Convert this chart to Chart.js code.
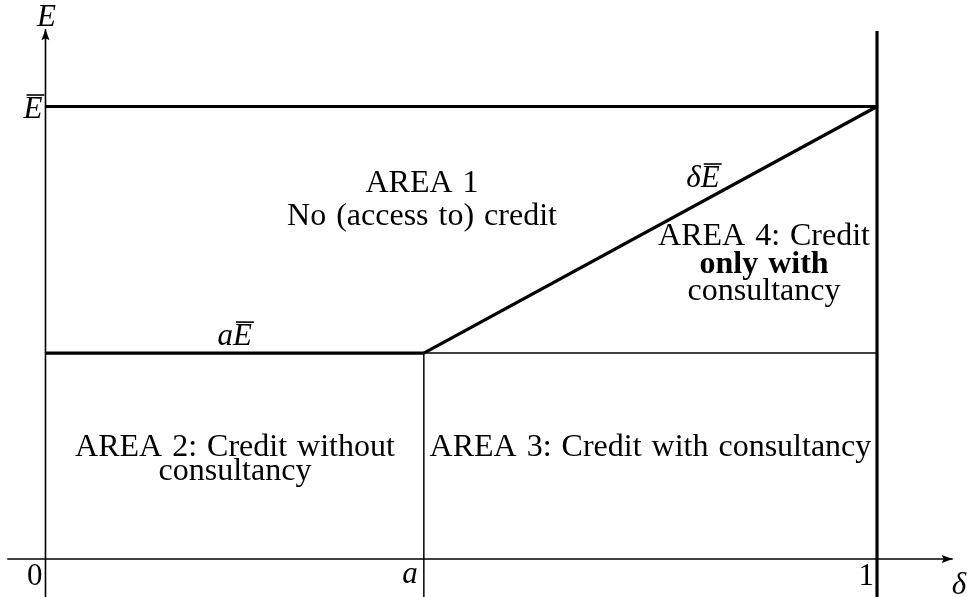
<!DOCTYPE html>
<html>
<head>
<meta charset="utf-8">
<script src="https://cdn.jsdelivr.net/npm/chart.js@4/dist/chart.umd.min.js"></script>
<style>
  html, body { margin: 0; padding: 0; background: #fff; }
  #c { display: block; }
</style>
</head>
<body>
<canvas id="c" width="967" height="597"></canvas>
<script>
// ---- Data (model values) ----
const EBAR = 1;          // upper bound E-bar
const A = 0.455;         // threshold a (on delta axis), a*E-bar on E axis
const deltaTickValues = [0, A, 1];
const deltaTickLabels = ['0', 'a', '1'];
const eTickValues = [EBAR];
const eTickLabels = ['E'];   // drawn with overline (E-bar)

// Region boundaries
const upperBound = [{x: 0, y: EBAR}, {x: 1, y: EBAR}];
const lowerBoundThick = [{x: 0, y: A * EBAR}, {x: A, y: A * EBAR}];
const diagonal = [{x: A, y: A * EBAR}, {x: 1, y: 1 * EBAR}];
const lowerBoundThin = [{x: A, y: A * EBAR}, {x: 1, y: A * EBAR}];
const aVertical = [{x: A, y: -0.1}, {x: A, y: A * EBAR}];
const oneVertical = [{x: 1, y: -0.1}, {x: 1, y: 1.167}];
const xAxisLine = [{x: -0.046, y: 0}, {x: 1.091, y: 0}];
const yAxisLine = [{x: 0, y: -0.1}, {x: 0, y: 1.171}];

// Area texts
const areaTexts = [
  {x: 0.4528, y: 0.811, gap: 33, lines: [['AREA 1', ''], ['No (access to) credit', '']]},
  {x: 0.2279, y: 0.2276, gap: 24, lines: [['AREA 2: Credit without', ''], ['consultancy', '']]},
  {x: 0.7275, y: 0.2276, gap: 24, lines: [['AREA 3: Credit with consultancy', '']]},
  {x: 0.8641, y: 0.6939, gap: 27.5, lines: [['AREA 4: Credit', ''], ['only with', 'bold'], ['consultancy', '']]}
];

const FONT = '"Liberation Serif", "DejaVu Serif", serif';
const FS = 31;
const FS_TEXT = 32;

function seg(data, w) {
  return {data: data, showLine: true, borderColor: '#000', borderWidth: w,
          pointRadius: 0, fill: false, borderCapStyle: 'butt', borderJoinStyle: 'miter'};
}

function drawEbar(ctx, prefix, xCenterOrRight, baseline, align, prefixFont) {
  ctx.save();
  const eFont = 'italic ' + FS + 'px ' + FONT;
  ctx.font = prefixFont || eFont;
  const pw = prefix ? ctx.measureText(prefix).width : 0;
  ctx.font = eFont;
  const ew = ctx.measureText('E').width;
  const total = pw + ew;
  let left;
  if (align === 'center') left = xCenterOrRight - total / 2;
  else if (align === 'right') left = xCenterOrRight - total;
  else left = xCenterOrRight;
  ctx.fillStyle = '#000';
  ctx.textBaseline = 'alphabetic';
  ctx.textAlign = 'left';
  if (prefix) { ctx.font = prefixFont || eFont; ctx.fillText(prefix, left, baseline); }
  ctx.font = eFont;
  ctx.fillText('E', left + pw, baseline);
  // overline
  ctx.strokeStyle = '#000';
  ctx.lineWidth = 1.6;
  ctx.beginPath();
  ctx.moveTo(left + pw + 3, baseline - 23);
  ctx.lineTo(left + pw + ew + 2, baseline - 23);
  ctx.stroke();
  ctx.restore();
}

const decorPlugin = {
  id: 'decor',
  afterDatasetsDraw(chart) {
    const ctx = chart.ctx;
    const xs = chart.scales.x, ys = chart.scales.y;
    ctx.save();
    ctx.fillStyle = '#000';
    // Arrow heads
    const xTip = xs.getPixelForValue(xAxisLine[1].x), y0 = ys.getPixelForValue(0);
    ctx.beginPath();
    ctx.moveTo(xTip, y0);
    ctx.lineTo(xTip - 11, y0 - 4);
    ctx.lineTo(xTip - 9, y0);
    ctx.lineTo(xTip - 11, y0 + 4);
    ctx.closePath();
    ctx.fill();
    const yTip = ys.getPixelForValue(yAxisLine[1].y), x0 = xs.getPixelForValue(0);
    ctx.beginPath();
    ctx.moveTo(x0, yTip);
    ctx.lineTo(x0 - 4, yTip + 11);
    ctx.lineTo(x0, yTip + 9);
    ctx.lineTo(x0 + 4, yTip + 11);
    ctx.closePath();
    ctx.fill();

    // Tick labels on delta axis
    ctx.textBaseline = 'alphabetic';
    deltaTickValues.forEach((v, i) => {
      const lab = deltaTickLabels[i];
      const isMath = /[a-z]/.test(lab);
      ctx.font = (isMath ? 'italic ' : '') + FS + 'px ' + FONT;
      ctx.textAlign = 'right';
      ctx.fillText(lab, xs.getPixelForValue(v) - (isMath ? 6 : 3), y0 + (isMath ? 24 : 26));
    });
    // axis titles
    ctx.font = 'italic ' + FS + 'px ' + FONT;
    ctx.textAlign = 'left';
    ctx.fillText('\u03B4', xTip - 1, y0 + 35);
    ctx.textAlign = 'center';
    ctx.fillText('E', x0 + 1, yTip - 3);

    // E-bar tick on E axis
    eTickValues.forEach((v) => {
      drawEbar(ctx, '', x0 - 3, ys.getPixelForValue(v) + 11.5, 'right');
    });

    // Curve labels
    drawEbar(ctx, 'a', xs.getPixelForValue(A / 2), ys.getPixelForValue(A * EBAR) - 8, 'center');
    drawEbar(ctx, '\u03B4', xs.getPixelForValue(0.7907), ys.getPixelForValue(0.8221), 'center');

    // Area texts
    ctx.textAlign = 'center';
    try { ctx.wordSpacing = '2px'; } catch (e) {}
    areaTexts.forEach((t) => {
      const cx = xs.getPixelForValue(t.x);
      let by = ys.getPixelForValue(t.y);
      t.lines.forEach(([txt, w]) => {
        ctx.font = (w === 'bold' ? 'bold ' : '') + FS_TEXT + 'px ' + FONT;
        ctx.fillText(txt, cx, by);
        by += t.gap;
      });
    });
    ctx.restore();
  }
};

new Chart(document.getElementById('c'), {
  type: 'scatter',
  data: {
    datasets: [
      seg(xAxisLine, 1.6),
      seg(yAxisLine, 1.6),
      seg(aVertical, 1.5),
      seg(lowerBoundThin, 1.5),
      seg(upperBound, 3.2),
      seg(lowerBoundThick, 3.2),
      seg(diagonal, 3.2),
      seg(oneVertical, 3.2)
    ]
  },
  options: {
    responsive: false,
    devicePixelRatio: 1,
    animation: false,
    events: [],
    layout: {padding: 0},
    plugins: {legend: {display: false}, tooltip: {enabled: false}, title: {display: false}},
    scales: {
      x: {type: 'linear', display: false, min: -0.0547, max: 1.1082},
      y: {type: 'linear', display: false, min: -0.084, max: 1.2354}
    }
  },
  plugins: [decorPlugin]
});
</script>
</body>
</html>
